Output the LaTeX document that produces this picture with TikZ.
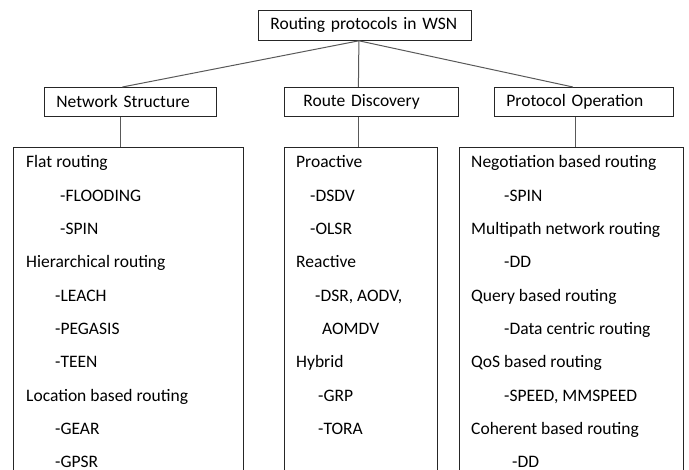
\documentclass[tikz,border=0pt]{standalone}
\usepackage{fontspec}
\setmainfont{Carlito}
\begin{document}
\begin{tikzpicture}[x=1pt, y=-1pt, font=\fontsize{17.5}{21}\selectfont,
    box/.style={draw=black!85, line width=0.8pt, inner sep=0pt},
    head/.style={box, anchor=north west, text width=#1, align=left, inner xsep=12pt, minimum height=29},
    item/.style={anchor=base west, inner sep=0pt},
    link/.style={draw=black!65, line width=1pt}]
  \useasboundingbox (0,0) rectangle (689,470);
  \clip (0,0) rectangle (689,470);
  % top level
  \node[head=189, minimum height=30] (root) at (258,10) {Routing protocols in WSN};
  \node[head=148] (ns) at (44,87) {Network\ Structure};
  \node[head=150] (rd) at (284,87) {\hspace{7pt}Route Discovery};
  \node[head=155] (po) at (494,87) {Protocol Operation};
  \draw[link] ([xshift=-6pt]root.south) -- ([xshift=-8pt]ns.north);
  \draw[link] ([xshift=-6pt]root.south) -- ([xshift=-13pt]rd.north);
  \draw[link] ([xshift=-6pt]root.south) -- ([xshift=-11pt]po.north);
  % columns
  \node[box, anchor=north, minimum width=230, minimum height=400] (flat) at (128,147) {};
  \node[box, anchor=north, minimum width=153, minimum height=400] (disc) at (360.5,147) {};
  \node[box, anchor=north, minimum width=224, minimum height=400] (oper) at (571,147) {};
  \draw[link] ([xshift=-10pt]ns.south) -- ([xshift=-10pt]ns.south |- flat.north);
  \draw[link] ([xshift=-13pt]rd.south) -- ([xshift=-13pt]rd.south |- disc.north);
  \draw[link] ([xshift=-8pt]po.south) -- ([xshift=-8pt]po.south |- oper.north);
  % entries
  \foreach \y/\x/\t [count=\i] in {168/26/Flat routing, 201.3/60/-FLOODING, 234.7/60/-SPIN,
      268/26/Hierarchical routing, 301.3/55/-LEACH, 334.7/55/-PEGASIS, 368/55/-TEEN,
      401.3/26/Location based routing, 434.7/55/-GEAR, 468/55/-GPSR}
    \node[item] (a\i) at (\x,\y) {\t};
  \foreach \y/\x/\t [count=\i] in {168/296/Proactive, 201.3/310/-DSDV, 234.7/310/-OLSR,
      268/296/Reactive, 301.3/315/{-DSR, AODV,}, 334.7/322/AOMDV,
      368/296/Hybrid, 401.3/318/-GRP, 434.7/318/-TORA}
    \node[item] (b\i) at (\x,\y) {\t};
  \foreach \y/\x/\t [count=\i] in {168/471/Negotiation based routing, 201.3/504/-SPIN,
      234.7/471/Multipath network routing, 268/504/-DD,
      301.3/471/Query based routing, 334.7/504/-Data centric routing,
      368/471/QoS based routing, 401.3/504/{-SPEED, MMSPEED},
      434.7/471/Coherent based routing, 468/512/-DD}
    \node[item] (c\i) at (\x,\y) {\t};
\end{tikzpicture}
\end{document}
